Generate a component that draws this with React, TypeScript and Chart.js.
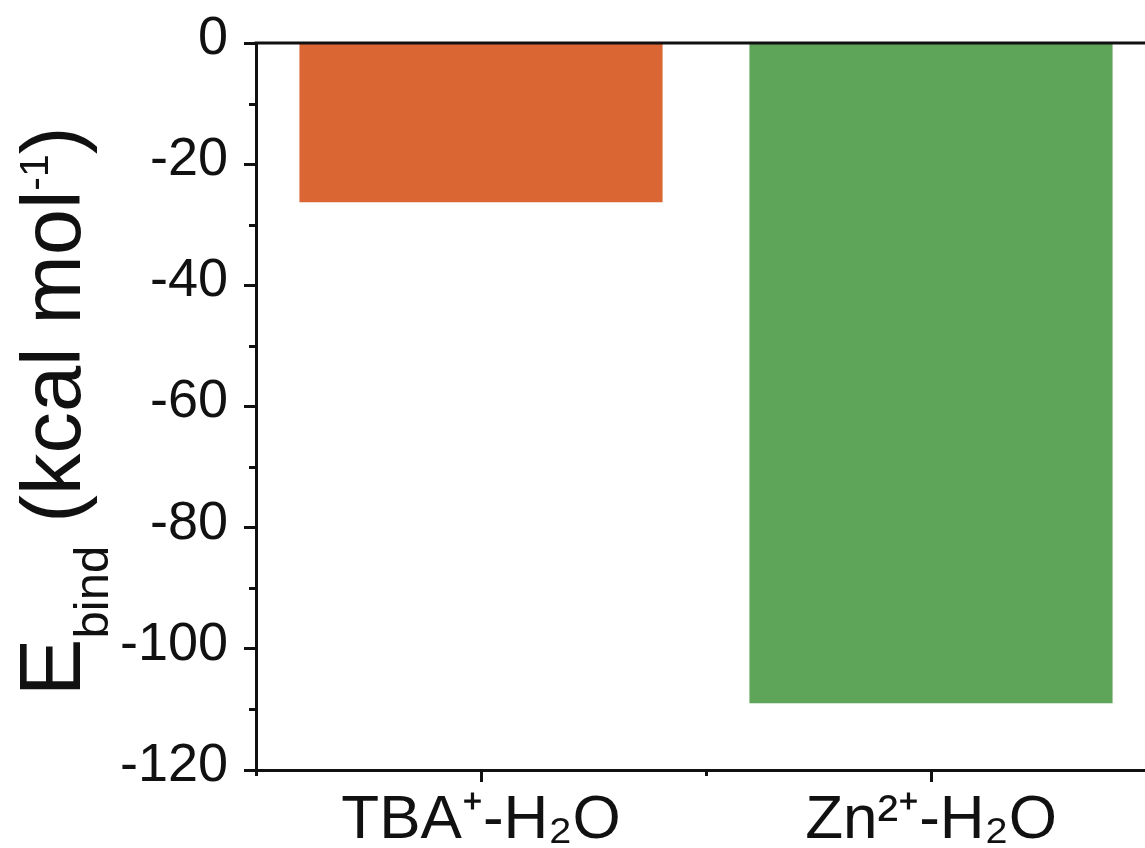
import React, { useEffect, useRef } from "react";
import { Chart, registerables } from "chart.js";

Chart.register(...registerables);

const categories = ["TBA⁺-H₂O", "Zn²⁺-H₂O"];
const bindingEnergy = [-26.3, -109.0];
const barColors = ["#DA6634", "#5EA55A"];
const yMin = -120;
const yMax = 0;
const yStep = 20;
const yMinorTicks = [-10, -30, -50, -70, -90, -110];
const titleMain = "E";
const titleSub = "bind";
const titleUnit = " (kcal mol";
const titleSup = "-1";
const titleEnd = ")";

const FONT = '"Liberation Sans", Arial, Helvetica, sans-serif';

const axisDecor = {
  id: "axisDecor",
  afterDraw(chart: any) {
    const { ctx, chartArea: ca, scales } = chart;
    const ys = scales.y;
    const xs = scales.x;
    ctx.save();
    ctx.strokeStyle = "#111";
    ctx.lineWidth = 3;
    ctx.lineCap = "butt";
    // top frame line
    ctx.beginPath();
    ctx.moveTo(ca.left - 1.5, ca.top);
    ctx.lineTo(ca.right, ca.top);
    ctx.stroke();
    // right frame line
    ctx.beginPath();
    ctx.moveTo(ca.right, ca.top);
    ctx.lineTo(ca.right, ca.bottom);
    ctx.stroke();
    // minor y ticks
    for (const v of yMinorTicks) {
      const py = Math.round(ys.getPixelForValue(v)) + 0.5;
      ctx.beginPath();
      ctx.moveTo(ca.left - 7, py);
      ctx.lineTo(ca.left, py);
      ctx.stroke();
    }
    // minor x ticks at category boundaries
    for (let i = 0; i <= categories.length; i++) {
      const px = Math.round(xs.getPixelForValue(i - 0.5)) + 0.5;
      ctx.beginPath();
      ctx.moveTo(px, ca.bottom);
      ctx.lineTo(px, ca.bottom + 6);
      ctx.stroke();
    }

    // y-axis title with subscript / superscript
    const parts = [
      { text: titleMain, size: 87, rise: 0 },
      { text: titleSub, size: 49, rise: -28 },
      { text: titleUnit, size: 83, rise: 0 },
      { text: titleSup, size: 41, rise: 32 },
      { text: titleEnd, size: 83, rise: 0 },
    ];
    let total = 0;
    const widths: number[] = [];
    for (const p of parts) {
      ctx.font = `${p.size}px ${FONT}`;
      const w = ctx.measureText(p.text).width;
      widths.push(w);
      total += w;
    }
    const centerY = (ca.top + ca.bottom) / 2 + 5;
    const baseX = ca.left - 176;
    ctx.translate(baseX, centerY + total / 2);
    ctx.rotate(-Math.PI / 2);
    ctx.fillStyle = "#111";
    ctx.textBaseline = "alphabetic";
    ctx.textAlign = "left";
    let cursor = 0;
    parts.forEach((p, i) => {
      ctx.font = `${p.size}px ${FONT}`;
      ctx.fillText(p.text, cursor, -p.rise);
      cursor += widths[i];
    });
    ctx.restore();
  },
};

export default function App() {
  const ref = useRef<HTMLCanvasElement>(null);
  useEffect(() => {
    const chart = new Chart(ref.current as HTMLCanvasElement, {
      type: "bar",
      data: {
        labels: categories,
        datasets: [
          {
            data: bindingEnergy,
            backgroundColor: barColors,
            borderWidth: 0,
            barPercentage: 0.807,
            categoryPercentage: 1.0,
          },
        ],
      },
      options: {
        animation: false,
        responsive: false,
        devicePixelRatio: 1,
        layout: { padding: { top: 43, right: 14, left: 0, bottom: 0 } },
        plugins: {
          legend: { display: false },
          tooltip: { enabled: false },
        },
        scales: {
          x: {
            type: "category",
            offset: true,
            afterFit: (s: any) => {
              s.height = 78;
              s.paddingLeft = 0;
              s.paddingRight = 0;
            },
            grid: {
              offset: false,
              drawOnChartArea: false,
              drawTicks: true,
              tickLength: 12,
              tickWidth: 3,
              tickColor: "#111",
              color: "#111",
            },
            border: { display: true, color: "#111", width: 3 },
            ticks: {
              color: "#111",
              font: { family: FONT, size: 62 },
              padding: 2,
              maxRotation: 0,
              autoSkip: false,
            },
          },
          y: {
            type: "linear",
            min: yMin,
            max: yMax,
            afterFit: (s: any) => {
              s.width = 256;
              s.paddingTop = 0;
              s.paddingBottom = 0;
            },
            grid: {
              drawOnChartArea: false,
              drawTicks: true,
              tickLength: 12,
              tickWidth: 3,
              tickColor: "#111",
              color: "#111",
            },
            border: { display: true, color: "#111", width: 3 },
            ticks: {
              stepSize: yStep,
              color: "#111",
              font: { family: FONT, size: 54 },
              padding: 16,
              labelOffset: -4,
            },
          },
        },
      },
      plugins: [axisDecor],
    });
    return () => chart.destroy();
  }, []);
  return (
    <div
      style={{
        position: "fixed",
        left: 0,
        top: 0,
        width: 1145,
        height: 848,
        overflow: "hidden",
        background: "#fff",
      }}
    >
      <canvas
        ref={ref}
        width={1170}
        height={848}
        style={{ display: "block", width: 1170, height: 848 }}
      />
    </div>
  );
}
